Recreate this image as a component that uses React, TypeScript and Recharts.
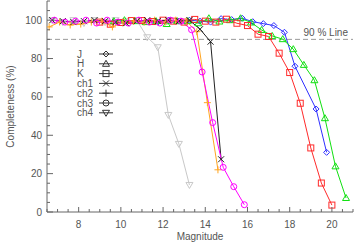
import React from 'react';
import { LineChart, Line, XAxis, YAxis, ReferenceLine, Legend, Label } from 'recharts';

// ---------- data ----------
const jMag = [11.75, 12.25, 12.75, 13.25, 13.75, 14.25, 14.75, 15.25, 15.75, 16.25, 16.75, 17.25, 17.75, 18.25, 19.25, 19.75];
const jVal = [99, 100, 99.5, 100, 99.5, 99, 100.8, 100.3, 101, 99.2, 98.2, 97.2, 93.7, 76, 53.7, 31.1];

const hMag = [9.67, 10.17, 10.67, 11.17, 11.67, 12.17, 12.67, 13.17, 13.67, 14.17, 14.67, 15.17, 15.67, 16.17, 16.67, 17.17, 17.67, 18.17, 18.67, 19.17, 19.67, 20.17, 20.67];
const hVal = [99.5, 100, 99.5, 99, 99.5, 98, 99.5, 99.5, 98.4, 101, 99.3, 100, 101, 98.8, 94.9, 91.8, 90.1, 84.9, 76.7, 68.7, 48.9, 23.8, 7.3];

const kMag = [9.0, 9.5, 10.0, 10.5, 11.0, 11.5, 12.0, 12.5, 13.0, 13.5, 14.0, 14.5, 15.0, 15.5, 16.0, 16.5, 17.0, 17.5, 18.0, 18.5, 19.0, 19.5, 20.0];
const kVal = [99, 97.9, 98.8, 99.8, 99.8, 99.3, 100, 99.5, 99, 100.4, 99.5, 99, 100.5, 98.4, 97.2, 92.7, 91.5, 82.8, 72.7, 56.7, 33.4, 15.1, 3.6];

const ch1Mag = [6.75, 7.25, 7.75, 8.25, 8.75, 9.25, 9.75, 10.25, 10.75, 11.25, 11.75, 12.25, 12.75, 13.25, 13.75, 14.25, 14.75];
const ch1Val = [100, 99.5, 99, 99.5, 100, 99.5, 99, 98.4, 99.5, 100, 99.5, 100, 99.5, 100, 95.3, 88.8, 27.5];

const ch2Mag = [6.6, 7.1, 7.6, 8.1, 8.6, 9.1, 9.6, 10.1, 10.6, 11.1, 11.6, 12.1, 12.6, 13.1, 13.6, 14.1, 14.6];
const ch2Val = [96.5, 99, 97.5, 98, 99, 99.5, 96.5, 99, 99.5, 99, 100, 99, 100, 99.5, 94, 57, 22];

const ch3Mag = [6.85, 7.35, 7.85, 8.35, 8.85, 9.35, 9.85, 10.35, 10.85, 11.35, 11.85, 12.35, 12.85, 13.35, 13.85, 14.35, 14.85, 15.35, 15.85];
const ch3Val = [100, 99, 99.5, 100, 98.5, 100, 99, 98.5, 100, 99, 98.5, 100, 99.5, 95, 73, 46.6, 23.3, 13.2, 3.8];

const ch4Mag = [6.75, 7.25, 7.75, 8.25, 8.75, 9.25, 9.75, 10.25, 10.75, 11.25, 11.75, 12.25, 12.75, 13.25];
const ch4Val = [100, 99, 100, 98.5, 100, 99, 100, 99.5, 100, 91.1, 85.9, 50.6, 35.5, 14.1];

const seriesNames = ['J', 'H', 'K', 'ch1', 'ch2', 'ch3', 'ch4'];
const xTicks: number[] = [];
for (let i = 0; i <= 29; i++) xTicks.push(6.5 + i * 0.5);
const yTicks: number[] = [];
for (let i = 0; i <= 22; i++) yTicks.push(i * 5);
const refValue = 90;
const refLabel = '90 % Line';

const toData = (m: number[], v: number[]) => m.map((x, i) => ({ mag: x, val: v[i] }));

const FONT = '"Liberation Sans", Arial, sans-serif';
const AX = '#666';
const TXT = '#555';

type Shape = 'diamond' | 'triangle' | 'square' | 'x' | 'plus' | 'circle' | 'down';

const Marker = ({ cx, cy, shape, color }: { cx: number; cy: number; shape: Shape; color: string }) => {
  const s = 3;
  const common = { fill: 'none', stroke: color, strokeWidth: 1 };
  switch (shape) {
    case 'diamond':
      return <polygon points={`${cx},${cy - s} ${cx + s},${cy} ${cx},${cy + s} ${cx - s},${cy}`} {...common} />;
    case 'triangle':
      return <polygon points={`${cx},${cy - 3.5} ${cx + 3.5},${cy + 2.5} ${cx - 3.5},${cy + 2.5}`} {...common} />;
    case 'square':
      return <rect x={cx - s} y={cy - s} width={2 * s} height={2 * s} {...common} />;
    case 'x':
      return <path d={`M${cx - s},${cy - s}L${cx + s},${cy + s}M${cx - s},${cy + s}L${cx + s},${cy - s}`} {...common} />;
    case 'plus':
      return <path d={`M${cx - 3.5},${cy}L${cx + 3.5},${cy}M${cx},${cy - 3.5}L${cx},${cy + 3.5}`} {...common} />;
    case 'circle':
      return <circle cx={cx} cy={cy} r={s} {...common} />;
    case 'down':
      return <polygon points={`${cx},${cy + 3.5} ${cx + 3.5},${cy - 2.5} ${cx - 3.5},${cy - 2.5}`} {...common} />;
  }
  return null;
};

const series: { name: string; data: { mag: number; val: number }[]; color: string; shape: Shape }[] = [
  { name: seriesNames[6], data: toData(ch4Mag, ch4Val), color: '#c8c8c8', shape: 'down' },
  { name: seriesNames[0], data: toData(jMag, jVal), color: '#2f2fff', shape: 'diamond' },
  { name: seriesNames[1], data: toData(hMag, hVal), color: '#11e011', shape: 'triangle' },
  { name: seriesNames[2], data: toData(kMag, kVal), color: '#ff2a2a', shape: 'square' },
  { name: seriesNames[4], data: toData(ch2Mag, ch2Val), color: '#ffa520', shape: 'plus' },
  { name: seriesNames[3], data: toData(ch1Mag, ch1Val), color: '#222222', shape: 'x' },
  { name: seriesNames[5], data: toData(ch3Mag, ch3Val), color: '#ff00ff', shape: 'circle' },
];

const isMajorX = (v: number) => Math.abs(v - Math.round(v)) < 1e-6 && Math.round(v) % 2 === 0;
const isMajorY = (v: number) => Math.round(v) % 20 === 0;

const BottomTick = (p: any) => {
  const v = p.payload.value;
  const major = isMajorX(v);
  return (
    <g>
      <line x1={p.x} x2={p.x} y1={p.y} y2={p.y - (major ? 5 : 3)} stroke={AX} strokeWidth={1} />
      {major && v > 6.6 && v < 20.9 ? (
        <text x={p.x} y={p.y + 16} textAnchor="middle" fontSize={10} fontFamily={FONT} fill={TXT}>{Math.round(v)}</text>
      ) : null}
    </g>
  );
};
const TopTick = (p: any) => {
  const major = isMajorX(p.payload.value);
  return <line x1={p.x} x2={p.x} y1={p.y} y2={p.y + (major ? 5 : 3)} stroke={AX} strokeWidth={1} />;
};
const LeftTick = (p: any) => {
  const v = p.payload.value;
  const major = isMajorY(v);
  return (
    <g>
      <line x1={p.x} x2={p.x + (major ? 6 : 3)} y1={p.y} y2={p.y} stroke={AX} strokeWidth={1} />
      {major && v <= 100 ? (
        <text x={p.x - 5} y={p.y + 3.5} textAnchor="end" fontSize={10} fontFamily={FONT} fill={TXT}>{v}</text>
      ) : null}
    </g>
  );
};
const RightTick = (p: any) => {
  const major = isMajorY(p.payload.value);
  return <line x1={p.x} x2={p.x - (major ? 6 : 3)} y1={p.y} y2={p.y} stroke={AX} strokeWidth={1} />;
};

const legendOrder: { name: string; shape: Shape }[] = [
  { name: seriesNames[0], shape: 'diamond' },
  { name: seriesNames[1], shape: 'triangle' },
  { name: seriesNames[2], shape: 'square' },
  { name: seriesNames[3], shape: 'x' },
  { name: seriesNames[4], shape: 'plus' },
  { name: seriesNames[5], shape: 'circle' },
  { name: seriesNames[6], shape: 'down' },
];

const LegendContent = () => (
  <svg width={50} height={72} style={{ display: 'block' }}>
    {legendOrder.map((it, i) => {
      const cy = 5 + i * 9.8;
      return (
        <g key={it.name}>
          <text x={7} y={cy + 3.5} fontSize={10} fontFamily={FONT} fill={TXT}>{it.name}</text>
          <line x1={29} x2={43} y1={cy} y2={cy} stroke="#333" strokeWidth={1} />
          <Marker cx={36} cy={cy} shape={it.shape} color="#333" />
        </g>
      );
    })}
  </svg>
);

export default function App() {
  return (
    <div style={{ position: 'absolute', left: 0, top: 0 }}>
      <LineChart width={354} height={248} margin={{ top: 1, right: 1, bottom: 0, left: 0 }}>
        <XAxis
          xAxisId="b"
          dataKey="mag"
          type="number"
          domain={[6.5, 21]}
          ticks={xTicks}
          interval={0}
          allowDataOverflow
          height={36}
          tickSize={0}
          tickMargin={0}
          tickLine={false}
          axisLine={{ stroke: AX }}
          tick={<BottomTick />}
        >
          <Label
            content={(props: any) => {
              const vb = props.viewBox;
              return (
                <text x={vb.x + vb.width / 2} y={vb.y + 27.5} textAnchor="middle" fontSize={10} fontFamily={FONT} fill={TXT}>
                  Magnitude
                </text>
              );
            }}
          />
        </XAxis>
        <XAxis
          xAxisId="t"
          orientation="top"
          dataKey="mag"
          type="number"
          domain={[6.5, 21]}
          ticks={xTicks}
          interval={0}
          allowDataOverflow
          height={0}
          tickSize={0}
          tickMargin={0}
          tickLine={false}
          axisLine={{ stroke: AX }}
          tick={<TopTick />}
        />
        <YAxis
          yAxisId="l"
          type="number"
          domain={[0, 110]}
          ticks={yTicks}
          interval={0}
          allowDataOverflow
          width={47}
          tickSize={0}
          tickMargin={0}
          tickLine={false}
          axisLine={{ stroke: AX }}
          tick={<LeftTick />}
        >
          <Label
            content={(props: any) => {
              const vb = props.viewBox;
              const cx = vb.x + 14;
              const cy = vb.y + vb.height / 2;
              return (
                <text x={cx} y={cy} transform={`rotate(-90 ${cx} ${cy})`} textAnchor="middle" fontSize={10} fontFamily={FONT} fill={TXT}>
                  Completeness (%)
                </text>
              );
            }}
          />
        </YAxis>
        <YAxis
          yAxisId="r"
          orientation="right"
          type="number"
          domain={[0, 110]}
          ticks={yTicks}
          interval={0}
          allowDataOverflow
          width={0}
          tickSize={0}
          tickMargin={0}
          tickLine={false}
          axisLine={{ stroke: AX }}
          tick={<RightTick />}
        />
        <ReferenceLine
          xAxisId="b"
          yAxisId="l"
          y={refValue}
          stroke="#999"
          strokeDasharray="5 3"
          label={(props: any) => {
            const vb = props.viewBox;
            return (
              <text x={vb.x + vb.width - 5} y={vb.y - 3} textAnchor="end" fontSize={10} fontFamily={FONT} fill={TXT}>
                {refLabel}
              </text>
            );
          }}
        />
        {series.map((s) => (
          <Line
            key={s.name}
            xAxisId="b"
            yAxisId="l"
            data={s.data}
            dataKey="val"
            name={s.name}
            stroke={s.color}
            strokeWidth={1}
            isAnimationActive={false}
            dot={(p: any) => <Marker key={`${s.name}-${p.index}`} cx={p.cx} cy={p.cy} shape={s.shape} color={s.color} />}
            activeDot={false}
            legendType="none"
          />
        ))}
        <Legend
          layout="vertical"
          align="center"
          verticalAlign="middle"
          content={<LegendContent />}
          wrapperStyle={{ left: 70, top: 49, width: 50, height: 72, margin: 0 }}
        />
      </LineChart>
    </div>
  );
}
